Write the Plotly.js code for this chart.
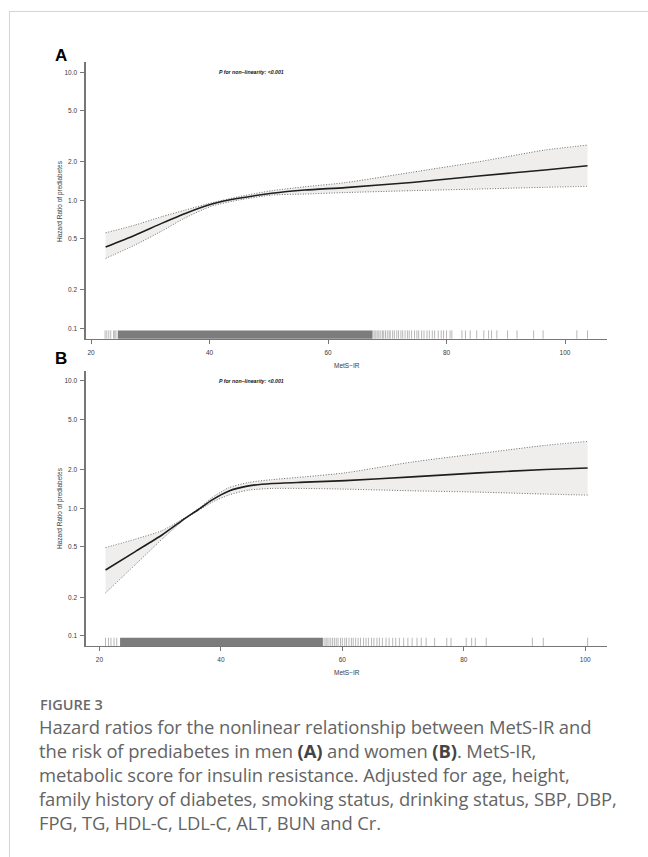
<!DOCTYPE html>
<html>
<head>
<meta charset="utf-8">
<script src="https://cdn.plot.ly/plotly-3.0.1.min.js"></script>
<style>
  html, body { margin: 0; padding: 0; background: #ffffff; }
  #wrap { position: relative; width: 648px; height: 857px; overflow: hidden; }
  #chart { position: absolute; left: 0; top: 0; width: 648px; height: 857px; }
  #frame { position: absolute; left: 9px; top: 11px; right: -2px; bottom: -2px;
           border-left: 1px solid #d4d4d4; border-top: 1px solid #d4d4d4; pointer-events: none; }
  #figlabel { position: absolute; left: 40px; top: 695px; font-family: "Open Sans", "Noto Sans", sans-serif;
              font-weight: 600; font-size: 14.5px; color: #6a6a6a; line-height: 20px; }
  #caption { position: absolute; left: 39px; top: 715px; width: 610px; font-family: "Open Sans", "Noto Sans", sans-serif;
             font-size: 18.4px; color: #646464; line-height: 24px; white-space: nowrap; letter-spacing: -0.1px; }
  #caption b { color: #444; font-weight: 700; }
</style>
</head>
<body>
<div id="wrap">
  <div id="chart"></div>
  <div id="frame"></div>
  <div id="figlabel">FIGURE 3</div>
  <div id="caption">Hazard ratios for the nonlinear relationship between MetS-IR and<br>the risk of prediabetes in men <b>(A)</b> and women <b>(B)</b>. MetS-IR,<br>metabolic score for insulin resistance. Adjusted for age, height,<br>family history of diabetes, smoking status, drinking status, SBP, DBP,<br>FPG, TG, HDL-C, LDL-C, ALT, BUN and Cr.</div>
</div>
<script>
// ---------- Data ----------
// Panel A (men)
const metsA  = [22.45, 27.4, 31.9, 35.9, 40.4, 44.9, 50.5, 56.1, 62.9, 74.1, 85.4, 96.6, 103.8];
const hrA    = [0.432, 0.535, 0.661, 0.791, 0.936, 1.037, 1.135, 1.203, 1.258, 1.38, 1.549, 1.725, 1.863];
const upperA = [0.558, 0.641, 0.745, 0.84, 0.958, 1.067, 1.19, 1.277, 1.375, 1.655, 2.0, 2.47, 2.70];
const lowerA = [0.352, 0.448, 0.575, 0.731, 0.903, 1.005, 1.10, 1.12, 1.15, 1.19, 1.225, 1.264, 1.286];
// Panel B (women)
const metsB  = [21.0, 25.9, 30.3, 34.1, 36.3, 38.5, 41.25, 44.55, 48.4, 53.9, 60.5, 71.5, 82.45, 93.4, 100.4];
const hrB    = [0.328, 0.458, 0.618, 0.835, 0.98, 1.161, 1.365, 1.50, 1.567, 1.605, 1.65, 1.766, 1.897, 2.018, 2.075];
const upperB = [0.492, 0.573, 0.668, 0.845, 0.99, 1.21, 1.449, 1.596, 1.68, 1.77, 1.90, 2.31, 2.69, 3.12, 3.35];
const lowerB = [0.217, 0.361, 0.573, 0.825, 0.96, 1.114, 1.27, 1.39, 1.433, 1.433, 1.415, 1.373, 1.34, 1.294, 1.27];

// Rug (observed MetS-IR values): solid dense bands and individual ticks
const rugBandA  = [24.5, 67.5];
const rugTicksA = [22.36, 22.65, 22.99, 23.32, 23.8, 24.0, 24.2,
  67.6, 67.9, 68.1, 68.4, 68.6, 68.9, 69.2, 69.4, 69.7, 70.0, 70.3, 70.5, 70.9, 71.2, 71.6, 71.9,
  72.3, 72.6, 73.0, 73.4, 73.7, 74.1, 74.6, 75.0, 75.3, 75.8, 76.2, 76.7, 77.1, 77.6, 78.0, 78.6,
  79.1, 79.5, 80.0, 80.6, 80.9, 82.6, 83.2, 84.0, 85.1, 86.3, 87.1, 87.6, 88.5, 90.3, 91.9, 94.7,
  96.3, 102.0, 103.8];
const rugBandB  = [23.4, 56.8];
const rugTicksB = [21.0, 21.5, 21.9, 22.4, 22.85,
  57.0, 57.3, 57.5, 57.8, 58.1, 58.4, 58.7, 59.0, 59.3, 59.7, 60.0, 60.4, 60.7, 61.1, 61.5, 61.8,
  62.2, 62.6, 63.0, 63.5, 63.9, 64.3, 64.8, 65.2, 65.7, 66.1, 66.6, 67.2, 67.7, 68.3, 68.8, 69.4,
  70.1, 70.8, 71.5, 72.3, 73.0, 73.8, 75.2, 77.2, 77.9, 80.4, 81.3, 81.9, 83.7, 91.3, 93.1, 100.4];

const xTickVals = [20, 40, 60, 80, 100];
const yTickVals = [0.1, 0.2, 0.5, 1, 2, 5, 10];
const yTickText = ['0.1', '0.2', '0.5', '1.0', '2.0', '5.0', '10.0'];
const xRangeA = [19.09, 107.04];
const xRangeB = [17.74, 103.54];
const pText = '<b><i>P for non\u2212linearity: &lt;0.001</i></b>';
const xTitle = 'MetS\u2212IR';
const yTitle = 'Hazard Ratio of prediabetes';

// ---------- Traces ----------
const FILL = '#efeeec';
const SPL = {shape: 'spline', smoothing: 0.6};
function panelTraces(xs, hr, up, lo, xa, ya) {
  return [
    {x: xs, y: lo, xaxis: xa, yaxis: ya, type: 'scatter', mode: 'lines', hoverinfo: 'skip',
     line: Object.assign({width: 0, color: 'rgba(0,0,0,0)'}, SPL)},
    {x: xs, y: up, xaxis: xa, yaxis: ya, type: 'scatter', mode: 'lines', fill: 'tonexty', fillcolor: FILL,
     hoverinfo: 'skip', line: Object.assign({width: 0, color: 'rgba(0,0,0,0)'}, SPL)},
    {x: xs, y: up, xaxis: xa, yaxis: ya, type: 'scatter', mode: 'lines',
     line: Object.assign({color: '#6e6e6e', width: 1, dash: '1px,1.6px'}, SPL)},
    {x: xs, y: lo, xaxis: xa, yaxis: ya, type: 'scatter', mode: 'lines',
     line: Object.assign({color: '#6e6e6e', width: 1, dash: '1px,1.6px'}, SPL)},
    {x: xs, y: hr, xaxis: xa, yaxis: ya, type: 'scatter', mode: 'lines',
     line: Object.assign({color: '#1e1e1e', width: 1.6}, SPL)}
  ];
}
const data = panelTraces(metsA, hrA, upperA, lowerA, 'x', 'y')
  .concat(panelTraces(metsB, hrB, upperB, lowerB, 'x2', 'y2'));

// ---------- Rug shapes ----------
function rugShapes(band, ticks, xref, yref) {
  const s = [{type: 'rect', xref: xref, yref: yref + ' domain', x0: band[0], x1: band[1], y0: 0, y1: 0.03,
              fillcolor: '#7c7c7c', line: {width: 0}, layer: 'above'}];
  ticks.forEach(v => s.push({type: 'line', xref: xref, yref: yref + ' domain', x0: v, x1: v, y0: 0, y1: 0.03,
              line: {color: '#9a9a9a', width: 0.7}, layer: 'above'}));
  return s;
}
const shapes = rugShapes(rugBandA, rugTicksA, 'x', 'y').concat(rugShapes(rugBandB, rugTicksB, 'x2', 'y2'));

// ---------- Axes ----------
const tickFont = {family: 'Liberation Sans, Arial, sans-serif', size: 6.5, color: '#3a3a3a'};
function xAxis(range, domain, anchor) {
  return {domain: domain, anchor: anchor, range: range, tickvals: xTickVals, ticks: 'outside', ticklen: 4,
          tickwidth: 1, tickcolor: '#777', showline: true, linecolor: '#777', linewidth: 1.3,
          showgrid: false, zeroline: false, tickfont: tickFont, ticklabelstandoff: 3};
}
function yAxis(domain, anchor) {
  return {domain: domain, anchor: anchor, type: 'log', range: [-1.08, 1.08], tickvals: yTickVals,
          ticktext: yTickText, ticks: 'outside', ticklen: 4, tickwidth: 1, tickcolor: '#777', showline: true,
          linecolor: '#777', linewidth: 1.3, showgrid: false, zeroline: false, tickfont: tickFont,
          ticklabelstandoff: 2};
}

const W = 648, H = 857;
const px = v => v / W, py = v => 1 - v / H;
const labelFont = {family: 'Liberation Sans, Arial, sans-serif', size: 6.5, color: '#3a3a3a'};
const annotations = [
  {text: '<b>A</b>', xref: 'paper', yref: 'paper', x: px(61), y: py(56), showarrow: false,
   font: {family: 'Liberation Sans, Arial, sans-serif', size: 17, color: '#000'}, xanchor: 'center', yanchor: 'middle'},
  {text: '<b>B</b>', xref: 'paper', yref: 'paper', x: px(61), y: py(358), showarrow: false,
   font: {family: 'Liberation Sans, Arial, sans-serif', size: 17, color: '#000'}, xanchor: 'center', yanchor: 'middle'},
  {text: yTitle, xref: 'paper', yref: 'paper', x: px(60), y: py(201), textangle: -90, showarrow: false,
   font: labelFont, xanchor: 'center', yanchor: 'middle'},
  {text: yTitle, xref: 'paper', yref: 'paper', x: px(60), y: py(508), textangle: -90, showarrow: false,
   font: labelFont, xanchor: 'center', yanchor: 'middle'},
  {text: xTitle, xref: 'paper', yref: 'paper', x: px(346.6), y: py(365), showarrow: false,
   font: labelFont, xanchor: 'center', yanchor: 'middle'},
  {text: xTitle, xref: 'paper', yref: 'paper', x: px(346.6), y: py(672.5), showarrow: false,
   font: labelFont, xanchor: 'center', yanchor: 'middle'},
  {text: pText, xref: 'x', yref: 'y', x: 41.2, y: 1, showarrow: false, xanchor: 'left', yanchor: 'middle',
   font: {family: 'Liberation Sans, Arial, sans-serif', size: 5.2, color: '#111'}},
  {text: pText, xref: 'x2', yref: 'y2', x: 39.4, y: 1, showarrow: false, xanchor: 'left', yanchor: 'middle',
   font: {family: 'Liberation Sans, Arial, sans-serif', size: 5.2, color: '#111'}}
];

const layout = {
  width: W, height: H, margin: {l: 0, r: 0, t: 0, b: 0},
  paper_bgcolor: 'rgba(0,0,0,0)', plot_bgcolor: 'rgba(0,0,0,0)', showlegend: false,
  xaxis: xAxis(xRangeA, [px(85.7), px(606.7)], 'y'),
  yaxis: yAxis([py(338.7), py(62)], 'x'),
  xaxis2: xAxis(xRangeB, [px(85.7), px(606.7)], 'y2'),
  yaxis2: yAxis([py(646), py(370.7)], 'x2'),
  shapes: shapes, annotations: annotations
};

Plotly.newPlot('chart', data, layout, {staticPlot: true, displayModeBar: false});
</script>
</body>
</html>
